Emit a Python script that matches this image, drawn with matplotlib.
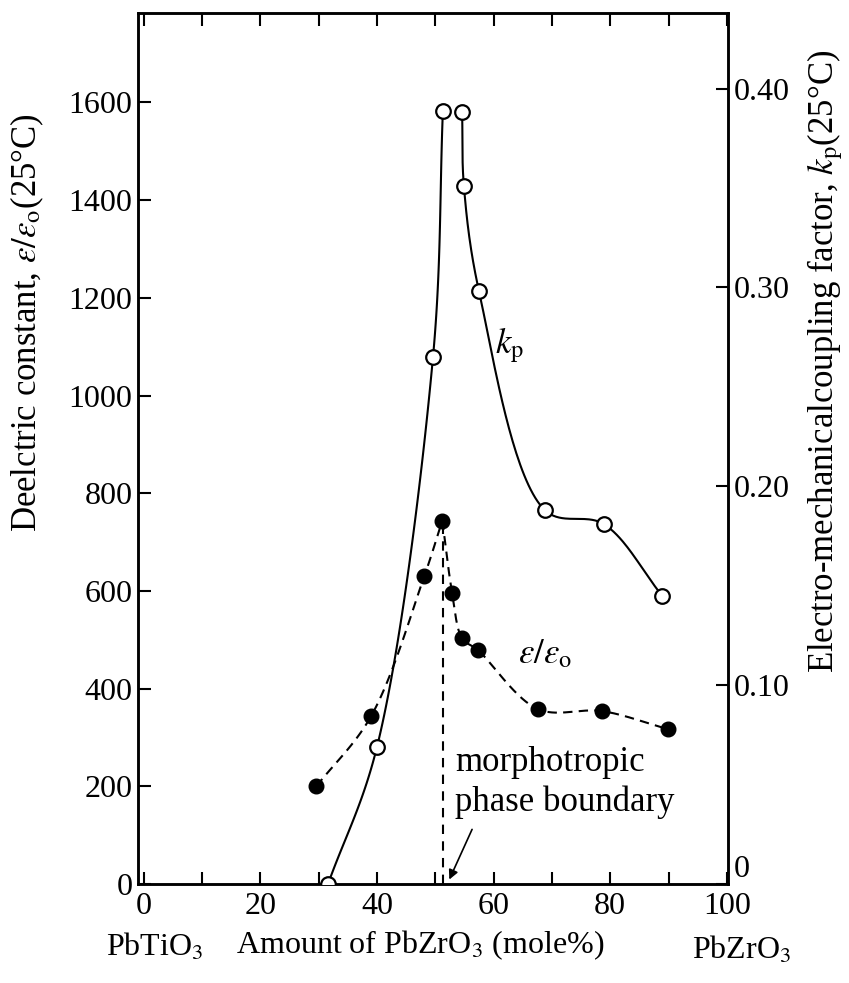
import numpy as np
import matplotlib
matplotlib.use("Agg")
import matplotlib.pyplot as plt

plt.rcParams['font.family'] = ['Liberation Serif', 'DejaVu Serif']
plt.rcParams['mathtext.fontset'] = 'stix'

# ---- data ----
# electromechanical coupling factor kp (open circles), two branches
kp_left_x = [31.6, 40.0, 49.6, 51.3]
kp_left_y = [0.0, 0.069, 0.265, 0.389]
kp_right_x = [54.6, 54.9, 57.5, 68.8, 78.9, 88.9]
kp_right_y = [0.388, 0.351, 0.298, 0.188, 0.181, 0.145]

# dielectric constant eps/eps0 (filled circles), two branches sharing the peak
eps_left_x = [29.6, 39.0, 48.1, 51.2]
eps_left_y = [200, 344, 630, 744]
eps_right_x = [51.2, 52.9, 54.6, 57.3, 67.6, 78.6, 89.9]
eps_right_y = [744, 595, 503, 479, 358, 354, 317]

mpb_x = 51.4           # morphotropic phase boundary
mpb_top = 744

left_ticks = [0, 200, 400, 600, 800, 1000, 1200, 1400, 1600]
right_ticks = [0, 0.10, 0.20, 0.30, 0.40]
right_ticklabels = ['0', '0.10', '0.20', '0.30', '0.40']
x_major = [0, 20, 40, 60, 80, 100]
x_minor = [10, 30, 50, 70, 90]


def smooth_curve(x, y, sx, sy, n=40):
    """Centripetal Catmull-Rom curve through the points (computed in a
    roughly isotropic scaled space)."""
    pts = np.column_stack([np.asarray(x, float) * sx, np.asarray(y, float) * sy])
    P = np.vstack([2 * pts[0] - pts[1], pts, 2 * pts[-1] - pts[-2]])
    out = []
    for i in range(1, len(P) - 2):
        p0, p1, p2, p3 = P[i - 1], P[i], P[i + 1], P[i + 2]
        t0 = 0.0
        t1 = t0 + np.linalg.norm(p1 - p0) ** 0.5
        t2 = t1 + np.linalg.norm(p2 - p1) ** 0.5
        t3 = t2 + np.linalg.norm(p3 - p2) ** 0.5
        t = np.linspace(t1, t2, n)[:, None]
        A1 = (t1 - t) / (t1 - t0) * p0 + (t - t0) / (t1 - t0) * p1
        A2 = (t2 - t) / (t2 - t1) * p1 + (t - t1) / (t2 - t1) * p2
        A3 = (t3 - t) / (t3 - t2) * p2 + (t - t2) / (t3 - t2) * p3
        B1 = (t2 - t) / (t2 - t0) * A1 + (t - t0) / (t2 - t0) * A2
        B2 = (t3 - t) / (t3 - t1) * A2 + (t - t1) / (t3 - t1) * A3
        C = (t2 - t) / (t2 - t1) * B1 + (t - t1) / (t2 - t1) * B2
        out.append(C if i == 1 else C[1:])
    C = np.vstack(out)
    return C[:, 0] / sx, C[:, 1] / sy


fig = plt.figure(figsize=(8.49, 9.83), dpi=100)
ax = fig.add_axes([0.1625, 0.1007, 0.695, 0.886])
ax2 = ax.twinx()

ax.set_xlim(-1, 100.2)
ax.set_ylim(0, 1783)
ax2.set_ylim(0, 0.438)

SX = 5.83; SE = 0.489; SK = 1990.0   # approximate px per unit (for smoothing only)

lw = 1.5
# eps curves (dashed)
for xx, yy in [(eps_left_x, eps_left_y), (eps_right_x, eps_right_y)]:
    cx, cy = smooth_curve(xx, yy, SX, SE)
    ax.plot(cx, cy, color='black', lw=lw, ls=(0, (4.5, 3)), zorder=2)
ax.plot(eps_left_x + eps_right_x[1:], eps_left_y + eps_right_y[1:], 'o',
        color='black', ms=10.5, zorder=4)

# MPB vertical dashed line
ax.plot([mpb_x, mpb_x], [0, mpb_top], color='black', lw=lw, ls=(0, (4.5, 3.5)), zorder=2)

# kp curves (solid)
for xx, yy in [(kp_left_x, kp_left_y), (kp_right_x, kp_right_y)]:
    cx, cy = smooth_curve(xx, yy, SX, SK)
    ax2.plot(cx, cy, color='black', lw=lw, zorder=2)
ax2.plot(kp_left_x + kp_right_x, kp_left_y + kp_right_y, 'o', mfc='white',
         mec='black', mew=1.6, ms=10.5, zorder=4)

fs = 23
# ticks
ax.set_xticks(x_major)
ax.set_xticks(x_minor, minor=True)
ax.set_yticks(left_ticks)
ax.tick_params(axis='both', which='both', direction='in', length=9, width=1.5,
               labelsize=fs, top=True, pad=6)
ax.tick_params(axis='y', pad=4)
ax2.set_yticks(right_ticks)
ax2.set_yticklabels(right_ticklabels)
ax2.tick_params(axis='y', direction='in', length=9, width=1.5, labelsize=fs, pad=4)
ax2.get_yticklabels()[0].set_verticalalignment('bottom')
for a in (ax, ax2):
    for s in a.spines.values():
        s.set_linewidth(1.8)

# annotations
ax2.text(62.8, 0.271, r'$k_\mathrm{p}$', fontsize=25, ha='center', va='center')
ax.text(68.8, 470, r'$\varepsilon/\varepsilon_\mathrm{o}$', fontsize=25, ha='center', va='center')
ax.text(53.4, 231, 'morphotropic', fontsize=25, ha='left', va='baseline')
ax.text(53.4, 149, 'phase boundary', fontsize=25, ha='left', va='baseline')
ax.annotate('', xy=(52.2, 4), xytext=(56.5, 117),
            arrowprops=dict(arrowstyle='-|>', color='black', lw=1.2,
                            mutation_scale=14))

# axis labels
ax.set_ylabel(r'Deelctric constant, $\varepsilon/\varepsilon_\mathrm{o}$(25°C)', fontsize=25)
ax.yaxis.set_label_coords((46 - 138) / 590, 0.645)
ax2.set_ylabel(r'Electro-mechanicalcoupling factor, $k_\mathrm{p}$(25°C)', fontsize=25)
ax2.yaxis.set_label_coords((806 - 138) / 590, 0.60)

fig.text(155 / 849, 1 - 947 / 983, r'PbTiO$_3$', fontsize=fs, ha='center', va='center')
fig.text(420 / 849, 1 - 945 / 983, r'Amount of PbZrO$_3$ (mole%)', fontsize=fs, ha='center', va='center')
fig.text(742 / 849, 1 - 950 / 983, r'PbZrO$_3$', fontsize=fs, ha='center', va='center')

fig.savefig('out.png', dpi=100)
